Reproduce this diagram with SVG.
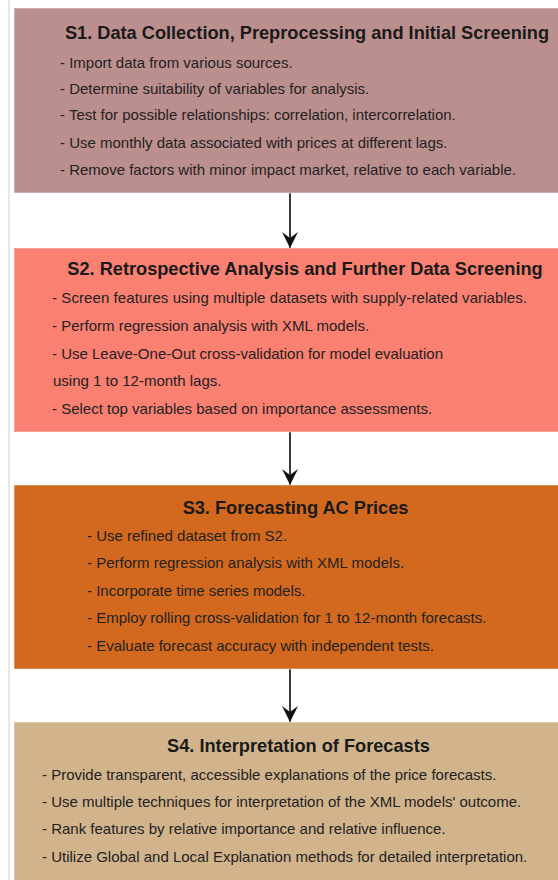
<svg xmlns="http://www.w3.org/2000/svg" width="558" height="880" viewBox="0 0 558 880">
<defs>
<style>
.box{stroke:rgba(255,255,255,0.35);stroke-width:1.5}
.t{font-family:"Liberation Sans",Arial,sans-serif;font-weight:bold;font-size:18.2px;fill:#1a1a1a;text-anchor:middle}
.b{font-family:"Liberation Sans",Arial,sans-serif;font-size:15px;fill:#222}
.c{stroke:#3a3a3a;stroke-width:2;fill:none}
</style>
<marker id="ah" viewBox="0 0 16 16" markerUnits="userSpaceOnUse" markerWidth="16" markerHeight="16" refX="16" refY="8" orient="auto">
<path d="M0,0 L16,8 L0,16 L6,8 Z" fill="#111"/>
</marker>
</defs>
<rect x="0" y="0" width="558" height="880" fill="#ffffff"/>
<line x1="9" y1="0" x2="9" y2="880" stroke="#d0d0d0" stroke-width="1"/>
<g id="connectors">
<line class="c" x1="290" y1="193" x2="290" y2="248" marker-end="url(#ah)"/>
<line class="c" x1="290" y1="432" x2="290" y2="485" marker-end="url(#ah)"/>
<line class="c" x1="290" y1="669" x2="290" y2="722" marker-end="url(#ah)"/>
</g>
<g id="s1">
<rect class="box" x="14" y="8" width="600" height="185" fill="#BC8F8F"/>
<text class="t" x="307" y="38.5">S1. Data Collection, Preprocessing and Initial Screening</text>
<text class="b" x="60" y="68">- Import data from various sources.</text>
<text class="b" x="60" y="94">- Determine suitability of variables for analysis.</text>
<text class="b" x="60" y="120">- Test for possible relationships: correlation, intercorrelation.</text>
<text class="b" x="60" y="148">- Use monthly data associated with prices at different lags.</text>
<text class="b" x="60" y="175">- Remove factors with minor impact market, relative to each variable.</text>
</g>
<g id="s2">
<rect class="box" x="14" y="248" width="600" height="184" fill="#FA8072"/>
<text class="t" x="305" y="274.5">S2. Retrospective Analysis and Further Data Screening</text>
<text class="b" x="52" y="303" textLength="475" lengthAdjust="spacing">- Screen features using multiple datasets with supply-related variables.</text>
<text class="b" x="52" y="331">- Perform regression analysis with XML models.</text>
<text class="b" x="52" y="359">- Use Leave-One-Out cross-validation for model evaluation</text>
<text class="b" x="53" y="386">using 1 to 12-month lags.</text>
<text class="b" x="52" y="414">- Select top variables based on importance assessments.</text>
</g>
<g id="s3">
<rect class="box" x="14" y="485" width="600" height="184" fill="#D2691E"/>
<text class="t" x="295.5" y="513.5">S3. Forecasting AC Prices</text>
<text class="b" x="87" y="541">- Use refined dataset from S2.</text>
<text class="b" x="87" y="568">- Perform regression analysis with XML models.</text>
<text class="b" x="87" y="596">- Incorporate time series models.</text>
<text class="b" x="87" y="623">- Employ rolling cross-validation for 1 to 12-month forecasts.</text>
<text class="b" x="87" y="651">- Evaluate forecast accuracy with independent tests.</text>
</g>
<g id="s4">
<rect class="box" x="14" y="722" width="600" height="170" fill="#D2B48C"/>
<text class="t" x="298.5" y="751.5">S4. Interpretation of Forecasts</text>
<text class="b" x="42" y="780">- Provide transparent, accessible explanations of the price forecasts.</text>
<text class="b" x="42" y="807">- Use multiple techniques for interpretation of the XML models' outcome.</text>
<text class="b" x="42" y="834">- Rank features by relative importance and relative influence.</text>
<text class="b" x="42" y="862">- Utilize Global and Local Explanation methods for detailed interpretation.</text>
</g>
</svg>
